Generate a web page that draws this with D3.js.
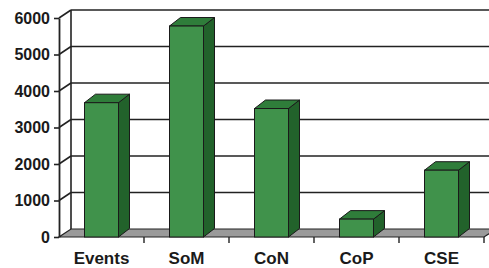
<!DOCTYPE html>
<html>
<head>
<meta charset="utf-8">
<script src="https://cdn.jsdelivr.net/npm/d3@7"></script>
<style>
  html, body { margin: 0; padding: 0; background: #fff; }
  svg { display: block; }
  text { font-family: "Liberation Sans", Arial, sans-serif; font-weight: bold; fill: #1a1a1a; }
</style>
</head>
<body>
<svg id="chart" width="489" height="268"></svg>
<script>
// chart data
var categories = ["Events", "SoM", "CoN", "CoP", "CSE"];
var values = [3680, 5780, 3520, 490, 1830];
var yTicks = [0, 1000, 2000, 3000, 4000, 5000, 6000];

var W = 489, H = 268;
var plotLeft = 59, plotRight = 484, plotBottom = 237, plotTop = 18;
var depthX = 12, depthY = -8;       // back wall offset
var barDX = 11, barDY = -8.5;       // bar depth offset

var svg = d3.select("#chart");

var x = d3.scaleBand()
    .domain(categories)
    .range([plotLeft, plotRight])
    .paddingInner(0.6)
    .paddingOuter(0.3);

var y = d3.scaleLinear()
    .domain([0, 6000])
    .range([plotBottom, plotTop]);

var lineCol = "#222";

// back wall gridlines + side wall diagonals
var grid = svg.append("g");
yTicks.forEach(function(t) {
  if (t === 0) return;
  grid.append("line")
      .attr("x1", plotLeft + depthX).attr("x2", W + 5)
      .attr("y1", y(t) + depthY).attr("y2", y(t) + depthY)
      .attr("stroke", lineCol).attr("stroke-width", 1.6);
  grid.append("line")
      .attr("x1", plotLeft).attr("x2", plotLeft + depthX)
      .attr("y1", y(t)).attr("y2", y(t) + depthY)
      .attr("stroke", lineCol).attr("stroke-width", 1.6);
});
// back-left corner
grid.append("line")
    .attr("x1", plotLeft + depthX).attr("x2", plotLeft + depthX)
    .attr("y1", y(6000) + depthY).attr("y2", y(0) + depthY)
    .attr("stroke", lineCol).attr("stroke-width", 1.6);

function pts(a) { return a.map(function(p) { return p.join(","); }).join(" "); }

// floor
svg.append("polygon")
    .attr("points", pts([
      [plotLeft, plotBottom], [plotRight, plotBottom],
      [plotRight + depthX, plotBottom + depthY], [plotLeft + depthX, plotBottom + depthY]
    ]))
    .attr("fill", "#9a9a9a")
    .attr("stroke", lineCol).attr("stroke-width", 1.2);

// bars
var bars = svg.append("g").selectAll("g")
    .data(categories.map(function(c, i) { return { cat: c, v: values[i] }; }))
    .join("g");

bars.append("polygon") // side
    .attr("points", function(d) {
      var x1 = x(d.cat) + x.bandwidth(), yt = y(d.v);
      return pts([[x1, plotBottom], [x1 + barDX, plotBottom + barDY], [x1 + barDX, yt + barDY], [x1, yt]]);
    })
    .attr("fill", "#22622b").attr("stroke", "#1a1a1a").attr("stroke-width", 1);

bars.append("polygon") // top
    .attr("points", function(d) {
      var x0 = x(d.cat), x1 = x0 + x.bandwidth(), yt = y(d.v);
      return pts([[x0, yt], [x0 + barDX, yt + barDY], [x1 + barDX, yt + barDY], [x1, yt]]);
    })
    .attr("fill", "#2f7d3a").attr("stroke", "#1a1a1a").attr("stroke-width", 1);

bars.append("rect") // front
    .attr("x", function(d) { return x(d.cat); })
    .attr("y", function(d) { return y(d.v); })
    .attr("width", x.bandwidth())
    .attr("height", function(d) { return plotBottom - y(d.v); })
    .attr("fill", "#40924b").attr("stroke", "#1a1a1a").attr("stroke-width", 1);

// y axis on front plane
var yAxis = svg.append("g")
    .attr("transform", "translate(" + plotLeft + ",0)")
    .call(d3.axisLeft(y).tickValues(yTicks).tickFormat(d3.format("d"))
      .tickSize(5).tickSizeOuter(0).tickPadding(4));
yAxis.select(".domain").attr("stroke", lineCol).attr("stroke-width", 1.8);
yAxis.selectAll(".tick line").attr("stroke", lineCol).attr("stroke-width", 1.6);
yAxis.selectAll(".tick text")
    .style("font-size", "16px")
    .style("font-family", "'Liberation Sans', Arial, sans-serif")
    .style("font-weight", "bold")
    .attr("fill", "#1a1a1a");

// category boundary ticks
svg.append("g").selectAll("line")
    .data(categories)
    .join("line")
    .attr("x1", function(d) { return x(d) - x.step() * 0.3 + x.step(); })
    .attr("x2", function(d) { return x(d) - x.step() * 0.3 + x.step(); })
    .attr("y1", plotBottom).attr("y2", plotBottom + 6)
    .attr("stroke", lineCol).attr("stroke-width", 1.4);

// category labels
svg.append("g").selectAll("text")
    .data(categories)
    .join("text")
    .attr("x", function(d) { return x(d) + x.bandwidth() / 2; })
    .attr("y", 264)
    .attr("text-anchor", "middle")
    .style("font-size", "17px")
    .text(function(d) { return d; });
</script>
</body>
</html>
